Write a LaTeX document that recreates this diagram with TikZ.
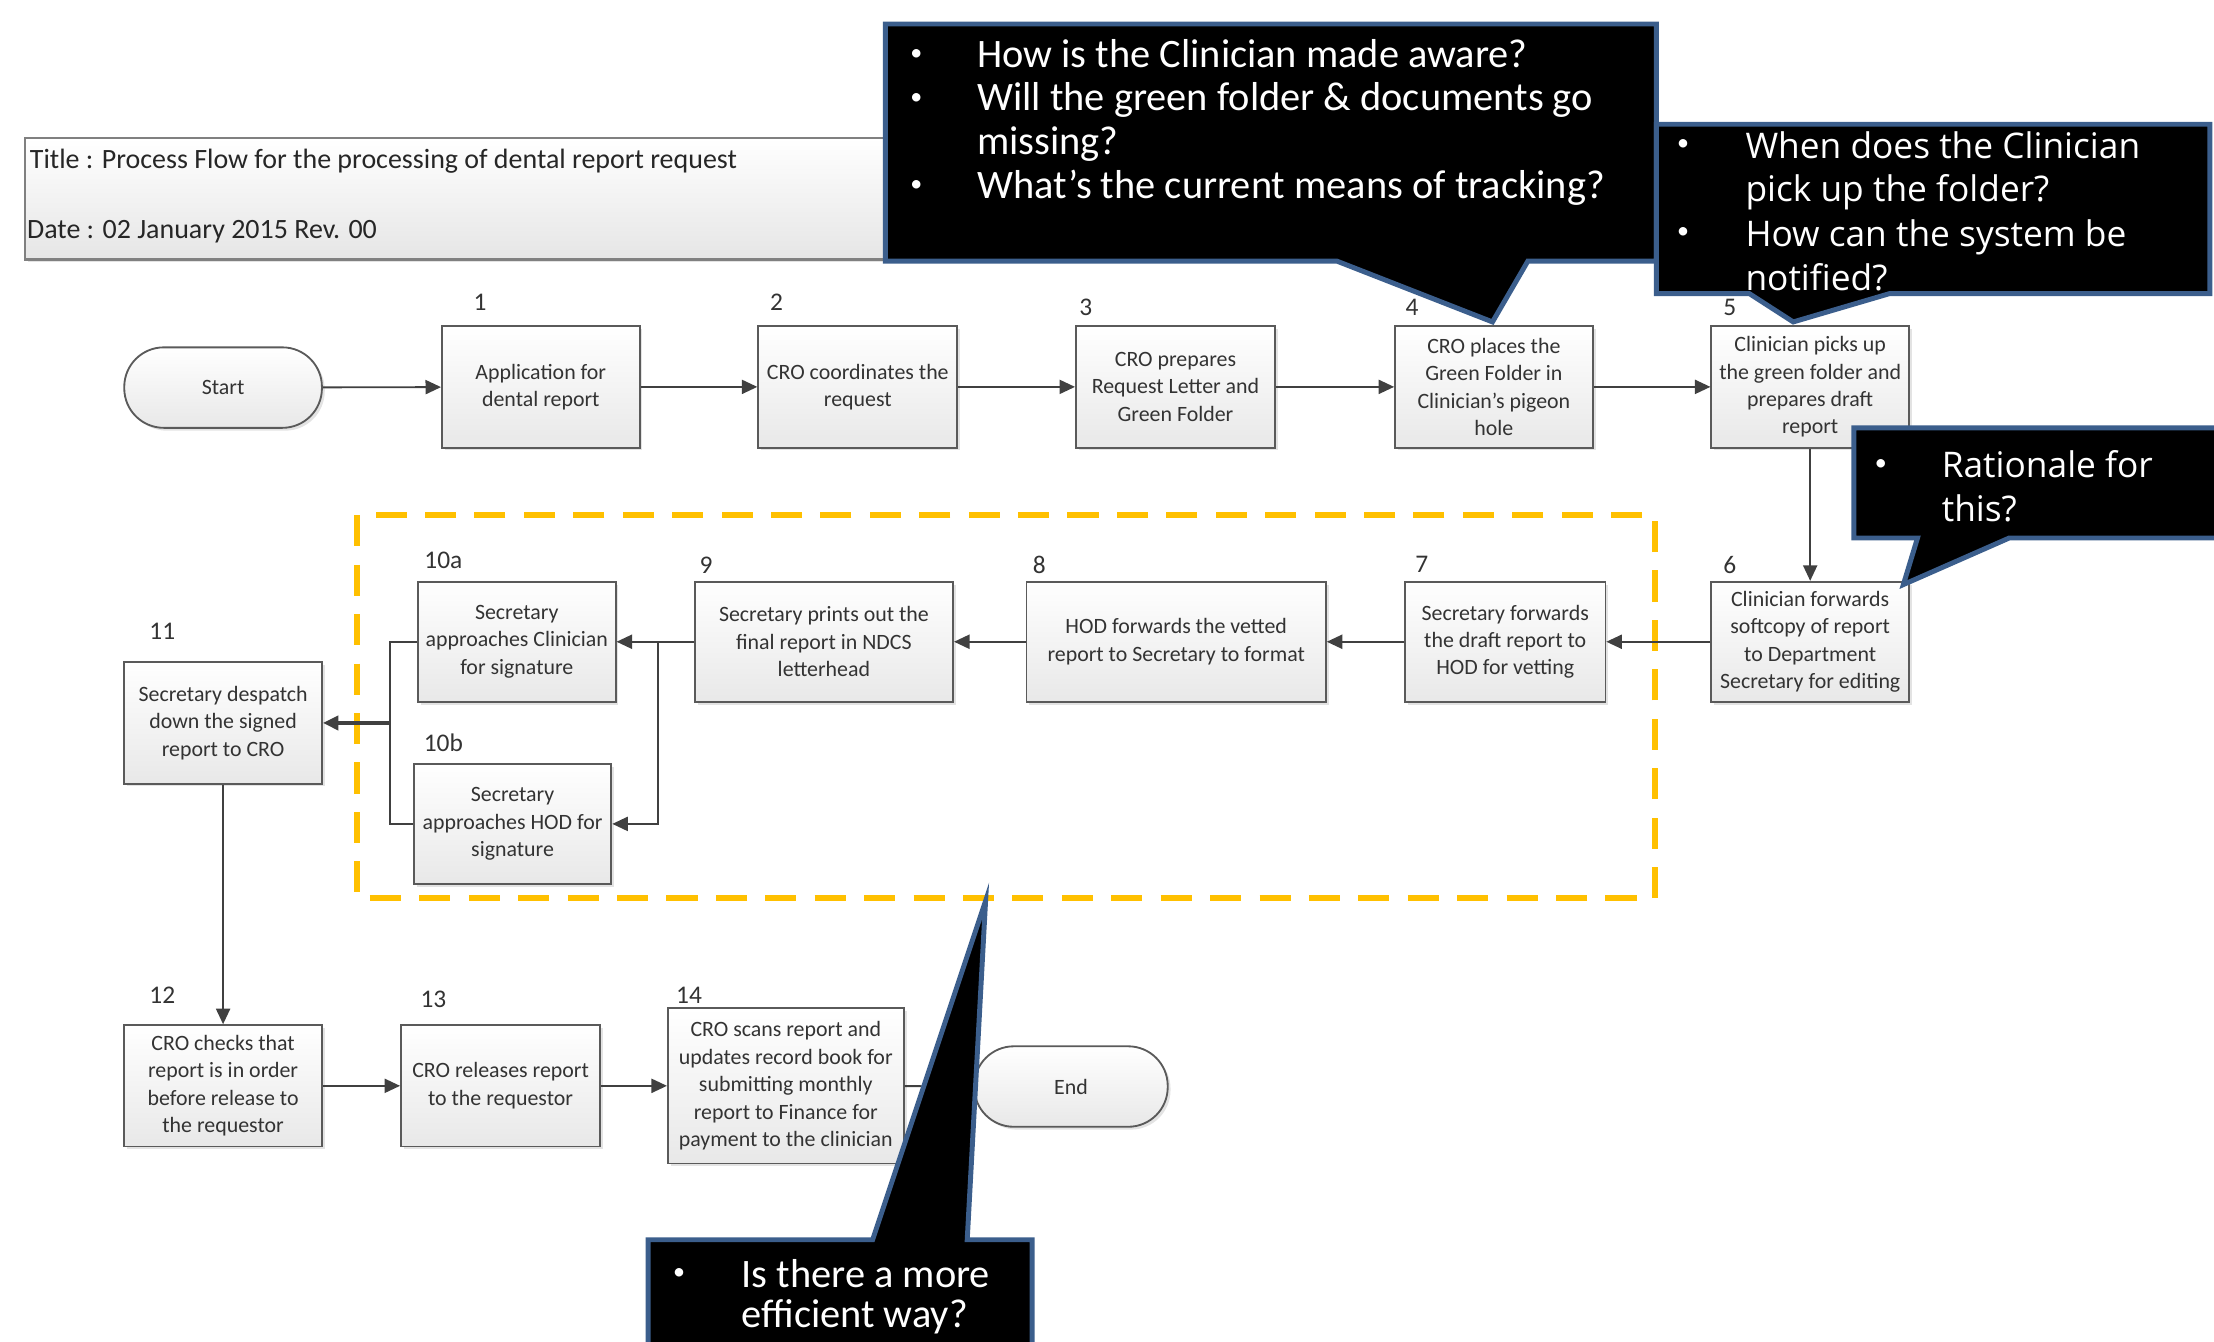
\documentclass[tikz,border=0pt]{standalone}
\usepackage{fontspec}
\setmainfont{Carlito}
\newfontfamily\tahoma{Open Sans}
\usetikzlibrary{arrows.meta,shadows}
\definecolor{boxline}{HTML}{5A5A5A}
\definecolor{conn}{HTML}{404040}
\definecolor{calloutblue}{HTML}{3B5E8C}
\definecolor{dashorange}{HTML}{FFC000}
\begin{document}
\begin{tikzpicture}[x=1pt,y=-1pt,
  proc/.style={draw=boxline, line width=1.3pt, top color=white, bottom color=black!9,
    align=center, inner sep=1pt, font=\fontsize{15.5}{19.4}\selectfont, text=black!80,
    minimum width=140pt, minimum height=86pt,
    drop shadow={shadow xshift=2pt, shadow yshift=-2pt, opacity=0.22}},
  term/.style={proc, rounded corners=28pt, minimum height=57pt},
  num/.style={font=\fontsize{18}{20}\selectfont, text=black!80, inner sep=0pt},
  conn/.style={draw=conn, line width=1.3pt},
  arr/.style={conn, -{Triangle[length=11pt,width=10pt]}},
  callout/.style={fill=black, draw=calloutblue, line width=3.5pt, line join=miter},
  ctxt/.style={anchor=west, text=white, inner sep=0pt, text height=0.72em, text depth=0.22em},
  narrowc/.style={ctxt, font=\fontsize{28.6}{31}\selectfont},
  widec/.style={ctxt, font=\tahoma\fontsize{25}{31}\selectfont},
  bul/.style={text=white, inner sep=0pt, font=\fontsize{17}{17}\selectfont},
]
\useasboundingbox (0,0) rectangle (1568,950);

% title box
\node[draw=black!50, line width=1.5pt, top color=white, bottom color=black!10,
  minimum width=690pt, minimum height=86pt, anchor=north west, inner sep=0pt,
  drop shadow={shadow xshift=2pt, shadow yshift=-2pt, opacity=0.22}] (titlebox) at (17,97) {};
\node[anchor=west, inner sep=0pt, font=\fontsize{19.8}{22}\selectfont, text=black!85] (title) at (21,114)
  {Title : Process Flow for the processing of dental report request};
\node[anchor=west, inner sep=0pt, font=\fontsize{19.8}{22}\selectfont, text=black!85] (date) at (19,164)
  {Date : 02 January 2015 Rev. 00};

% dashed group
\draw[dashorange, line width=4.2pt, dash pattern=on 22pt off 13pt] (253,365) rectangle (1172,636);

% process nodes
\node[term, minimum width=140pt] (start) at (158,274.5) {Start};
\node[proc] (b1) at (383,274) {Application for\\dental report};
\node[proc, minimum width=141pt] (b2) at (607.5,274) {CRO coordinates the\\request};
\node[proc, minimum width=141pt] (b3) at (832.5,274) {CRO prepares\\Request Letter and\\Green Folder};
\node[proc] (b4) at (1058,274) {CRO places the\\Green Folder in\\Clinician’s pigeon\\hole};
\node[proc] (b5) at (1282,274) {Clinician picks up\\the green folder and\\prepares draft\\report};
\node[proc, minimum height=85pt] (b6) at (1282,454.5) {Clinician forwards\\softcopy of report\\to Department\\Secretary for editing};
\node[proc, minimum width=142pt, minimum height=85pt] (b7) at (1066,454.5) {Secretary forwards\\the draft report to\\HOD for vetting};
\node[proc, minimum width=212pt, minimum height=85pt] (b8) at (833,454.5) {HOD forwards the vetted\\report to Secretary to format};
\node[proc, minimum width=183pt, minimum height=85pt] (b9) at (583.5,454.5) {Secretary prints out the\\final report in NDCS\\letterhead};
\node[proc, minimum height=85pt] (b10a) at (366,454.5) {Secretary\\approaches Clinician\\for signature};
\node[proc, minimum height=85pt] (b10b) at (363,583.5) {Secretary\\approaches HOD for\\signature};
\node[proc] (b11) at (158,512) {Secretary despatch\\down the signed\\report to CRO};
\node[proc] (b12) at (158,769) {CRO checks that\\report is in order\\before release to\\the requestor};
\node[proc, minimum width=141pt] (b13) at (354.5,769) {CRO releases report\\to the requestor};
\node[proc, minimum width=167pt, minimum height=110pt] (b14) at (556.5,769) {CRO scans report and\\updates record book for\\submitting monthly\\report to Finance for\\payment to the clinician};
\node[term, minimum width=137pt] (end) at (758.5,769.5) {End};

% step numbers
\node[num] (n1) at (340,214) {1};
\node[num] (n2) at (550,214) {2};
\node[num] (n3) at (769,218) {3};
\node[num] (n4) at (1000,218) {4};
\node[num] (n5) at (1225,218) {5};
\node[num] (n6) at (1225,400) {6};
\node[num] (n7) at (1007,400) {7};
\node[num] (n8) at (736,400) {8};
\node[num] (n9) at (500,400) {9};
\node[num] (n10a) at (314,397) {10a};
\node[num] (n10b) at (314,526) {10b};
\node[num] (n11) at (115,447) {11};
\node[num] (n12) at (115,705) {12};
\node[num] (n13) at (307,708) {13};
\node[num] (n14) at (488,705) {14};

% connectors
\draw[arr] (start) -- (b1);
\draw[arr] (b1) -- (b2);
\draw[arr] (b2) -- (b3);
\draw[arr] (b3) -- (b4);
\draw[arr] (b4) -- (b5);
\draw[arr] (b5) -- (b6);
\draw[arr] (b6) -- (b7);
\draw[arr] (b7) -- (b8);
\draw[arr] (b8) -- (b9);
\draw[arr] (b9) -- (b10a);
\coordinate (split) at (466,454.5);
\draw[arr] (split) |- (b10b.east);
\coordinate (merge) at (276,512);
\draw[conn] (b10a.west) -| (merge);
\draw[conn] (b10b.west) -| (merge);
\draw[arr, line width=2.6pt] (merge) -- (b11.east);
\draw[arr] (b11) -- (b12);
\draw[arr] (b12) -- (b13);
\draw[arr] (b13) -- (b14);
\draw[arr] (b14) -- (end);

% callout 1
\path[callout] (627,17) -- (1173,17) -- (1173,185) -- (1082,185) -- (1057,228) -- (947,185) -- (627,185) -- cycle;
\node[bul] (c1b1) at (649,39) {•};
\node[bul] (c1b2) at (649,70) {•};
\node[bul] (c1b3) at (649,132) {•};
\node[narrowc] (c1l1) at (692,45) {How is the Clinician made aware?};
\node[narrowc] (c1l2) at (692,76) {Will the green folder \& documents go};
\node[narrowc] (c1l3) at (692,107) {missing?};
\node[narrowc] (c1l4) at (692,138) {What’s the current means of tracking?};

% callout 2
\path[callout] (1173,88) -- (1565,88) -- (1565,208) -- (1338,208) -- (1270,228) -- (1239,208) -- (1173,208) -- cycle;
\node[bul] (c2b1) at (1192,103) {•};
\node[bul] (c2b2) at (1192,165) {•};
\node[widec] (c2l1) at (1236,110) {When does the Clinician};
\node[widec] (c2l2) at (1236,140) {pick up the folder?};
\node[widec] (c2l3) at (1236,172) {How can the system be};
\node[widec] (c2l4) at (1236,203) {notified?};

% callout 3
\path[callout] (1313,303) -- (1580,303) -- (1580,381) -- (1423,381) -- (1348,414) -- (1358,381) -- (1313,381) -- cycle;
\node[bul] (c3b1) at (1332,329) {•};
\node[widec] (c3l1) at (1375,336) {Rationale for};
\node[widec] (c3l2) at (1375,367) {this?};

% callout 4
\path[callout] (459,960) -- (459,878) -- (618,878) -- (698,638) -- (685,878) -- (731,878) -- (731,960);
\node[bul] (c4b1) at (481,902) {•};
\node[narrowc] (c4l1) at (525,909) {Is there a more};
\node[narrowc] (c4l2) at (525,938) {efficient way?};
\end{tikzpicture}
\end{document}
